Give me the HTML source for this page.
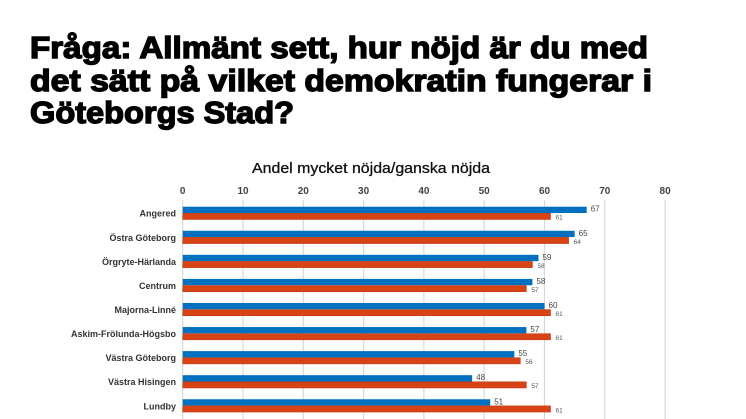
<!DOCTYPE html>
<html><head><meta charset="utf-8"><style>
html,body{margin:0;padding:0;background:#fff;width:746px;height:419px;overflow:hidden}
svg{display:block}
</style></head><body>
<svg width="746" height="419" viewBox="0 0 746 419" xmlns="http://www.w3.org/2000/svg" font-family="Liberation Sans, Arial, sans-serif">
<g font-weight="bold" font-size="31" fill="#000" stroke="#000" stroke-width="1.4">
<text x="30" y="58" textLength="618" lengthAdjust="spacingAndGlyphs">Fråga: Allmänt sett, hur nöjd är du med</text>
<text x="30" y="91" textLength="622" lengthAdjust="spacingAndGlyphs">det sätt på vilket demokratin fungerar i</text>
<text x="30" y="123" textLength="264" lengthAdjust="spacingAndGlyphs">Göteborgs Stad?</text>
</g>
<text x="252" y="173" font-size="15" fill="#111" stroke="#111" stroke-width="0.3" textLength="238" lengthAdjust="spacingAndGlyphs">Andel mycket nöjda/ganska nöjda</text>
<g id="grid" stroke="#d9d9d9" stroke-width="1.2"></g>
<g id="ticks" font-size="10" font-weight="bold" fill="#444" text-anchor="middle"></g>
<g id="bars"></g>
<script>
var ns="http://www.w3.org/2000/svg";
function el(p,t,a,txt){var e=document.createElementNS(ns,t);for(var k in a)e.setAttribute(k,a[k]);if(txt!=null)e.textContent=txt;p.appendChild(e);return e;}
var x0=182.7,s=6.03;
var g=document.getElementById('grid'),tk=document.getElementById('ticks'),b=document.getElementById('bars');
for(var i=0;i<=8;i++){var x=x0+i*10*s;el(g,'line',{x1:x,x2:x,y1:200,y2:419});el(tk,'text',{x:x,y:194},i*10);}
var d=[["Angered",67,61],["Östra Göteborg",65,64],["Örgryte-Härlanda",59,58],["Centrum",58,57],["Majorna-Linné",60,61],["Askim-Frölunda-Högsbo",57,61],["Västra Göteborg",55,56],["Västra Hisingen",48,57],["Lundby",51,61]];
d.forEach(function(r,i){var y=206.7+i*24.07;
el(b,'text',{x:176,y:y+10,'font-size':9,'font-weight':'bold',fill:'#333','text-anchor':'end'},r[0]);
el(b,'rect',{x:x0,y:y,width:r[1]*s,height:6.3,fill:'#0070c0'});
el(b,'rect',{x:x0,y:y+6.6,width:r[2]*s,height:6.2,fill:'#d84315',stroke:'#b8360e','stroke-width':0.5});
el(b,'text',{x:x0+r[1]*s+4,y:y+5,'font-size':8,fill:'#444'},r[1]);
el(b,'text',{x:x0+r[2]*s+5,y:y+13,'font-size':6.5,fill:'#555'},r[2]);
});
</script>
</svg>
</body></html>
